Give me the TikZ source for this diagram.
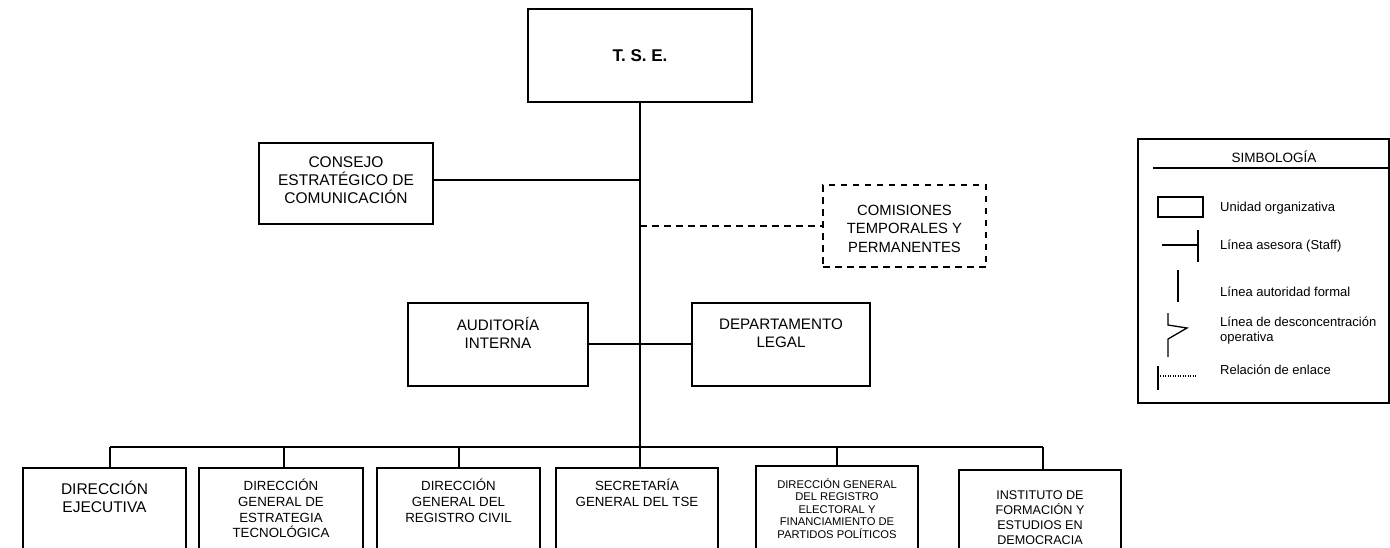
\documentclass[tikz,border=0pt]{standalone}
\usepackage{fontspec}
\setmainfont{Liberation Sans}
\newcommand{\fsz}[2]{\fontsize{#1pt}{#2pt}\selectfont}
\begin{document}
\begin{tikzpicture}[x=1pt,y=-1pt,
  box/.style={draw, line width=1.4pt, inner sep=0pt},
  dbox/.style={draw, line width=1.4pt, inner sep=0pt, dash pattern=on 6.5pt off 5.5pt},
  conn/.style={line width=1.4pt},
  dconn/.style={line width=1.4pt, dash pattern=on 6.5pt off 5.5pt},
  txt/.style={align=center, inner sep=0pt},
  ltxt/.style={align=left, inner sep=0pt, anchor=west, font=\fsz{13}{15}},
  sym/.style={line width=1.3pt}
]
\useasboundingbox (0,0) rectangle (1390,547);
\clip (0,0) rectangle (1390,547);

% top
\node[box, minimum width=224pt, minimum height=93pt, font=\bfseries\fsz{17}{20}] (tse) at (640,55.5) {T. S. E.};

% staff units
\node[box, minimum width=174pt, minimum height=81pt] (cons) at (346,183.5) {};
\node[txt, font=\fsz{15.5}{18}] (consT) at (346,180.5) {CONSEJO\\ESTRATÉGICO DE\\COMUNICACIÓN};

\node[dbox, minimum width=163pt, minimum height=82pt] (com) at (904.5,226) {};
\node[txt, font=\fsz{14.8}{18.5}] (comT) at (904.5,228.5) {COMISIONES\\TEMPORALES Y\\PERMANENTES};

\node[box, minimum width=180pt, minimum height=83pt] (aud) at (498,344.5) {};
\node[txt, font=\fsz{15.2}{18}] (audT) at (498,333) {AUDITORÍA\\INTERNA};

\node[box, minimum width=178pt, minimum height=83pt] (dep) at (781,344.5) {};
\node[txt, font=\fsz{15.2}{18}] (depT) at (781,333) {DEPARTAMENTO\\LEGAL};

% bottom units (cut by the page edge)
\node[box, minimum width=163pt, minimum height=100pt] (b1) at (104.5,518) {};
\node[box, minimum width=164pt, minimum height=100pt] (b2) at (281,518) {};
\node[box, minimum width=163pt, minimum height=100pt] (b3) at (458.5,518) {};
\node[box, minimum width=162pt, minimum height=100pt] (b4) at (637,518) {};
\node[box, minimum width=162pt, minimum height=102pt] (b5) at (837,517) {};
\node[box, minimum width=162pt, minimum height=98pt] (b6) at (1040,519) {};

\node[txt, font=\fsz{15.5}{17.7}] (b1T) at (104.5,496.5) {DIRECCIÓN\\EJECUTIVA};
\node[txt, font=\fsz{13.3}{15.7}] (b2T) at (281,508.5) {DIRECCIÓN\\GENERAL DE\\ESTRATEGIA\\TECNOLÓGICA};
\node[txt, font=\fsz{13.3}{15.8}] (b3T) at (458.5,501) {DIRECCIÓN\\GENERAL DEL\\REGISTRO CIVIL};
\node[txt, font=\fsz{13.3}{15.8}] (b4T) at (637,493) {SECRETARÍA\\GENERAL DEL TSE};
\node[txt, font=\fsz{11.2}{12.4}] (b5T) at (837,508.5) {DIRECCIÓN GENERAL\\DEL REGISTRO\\ELECTORAL Y\\FINANCIAMIENTO DE\\PARTIDOS POLÍTICOS};
\node[txt, font=\fsz{12.6}{15.2}] (b6T) at (1040,517.5) {INSTITUTO DE\\FORMACIÓN Y\\ESTUDIOS EN\\DEMOCRACIA};

% connectors
\coordinate (bus) at (640,447);
\coordinate (jc) at (640,180);
\coordinate (jk) at (640,226);
\coordinate (ja) at (640,344);
\coordinate (d1) at (110,447);
\coordinate (d2) at (284,447);
\coordinate (d3) at (459,447);
\coordinate (d4) at (640,447);
\coordinate (d5) at (837,447);
\coordinate (d6) at (1043,447);

\draw[conn] (tse.south) -- (bus);
\draw[conn] (jc) -- (jc -| cons.east);
\draw[dconn] (jk) -- (com.west);
\draw[conn] (ja -| aud.east) -- (ja -| dep.west);
\draw[conn] (d1) -- (d6);
\draw[conn] (d1) -- (d1 |- b1.north);
\draw[conn] (d2) -- (d2 |- b2.north);
\draw[conn] (d3) -- (d3 |- b3.north);
\draw[conn] (d4) -- (d4 |- b4.north);
\draw[conn] (d5) -- (d5 |- b5.north);
\draw[conn] (d6) -- (d6 |- b6.north);

% legend
\draw[line width=1.2pt] (1138,139) rectangle (1389,403);
\node[txt, font=\fsz{13.5}{16}] (legT) at (1274,157) {SIMBOLOGÍA};
\draw[line width=2pt] (1153,168) -- (1390,168);

\draw[sym] (1158,197) rectangle (1203,217);
\node[ltxt] (l1) at (1220,208) {Unidad organizativa};

\draw[sym] (1162,245) -- (1198,245);
\draw[sym] (1198,230) -- (1198,262);
\node[ltxt] (l2) at (1220,246) {Línea asesora (Staff)};

\draw[sym] (1178,270) -- (1178,302);
\node[ltxt] (l3) at (1220,292) {Línea autoridad formal};

\draw[sym] (1168,313) -- (1168,325) -- (1187,328) -- (1168,339) -- (1168,357);
\node[ltxt] (l4) at (1220,330.5) {Línea de desconcentración\\operativa};

\draw[sym] (1158,366) -- (1158,390);
\draw[line width=1.1pt, dash pattern=on 1pt off 1.5pt] (1160,376) -- (1197,376);
\node[ltxt] (l5) at (1220,370) {Relación de enlace};
\end{tikzpicture}
\end{document}
